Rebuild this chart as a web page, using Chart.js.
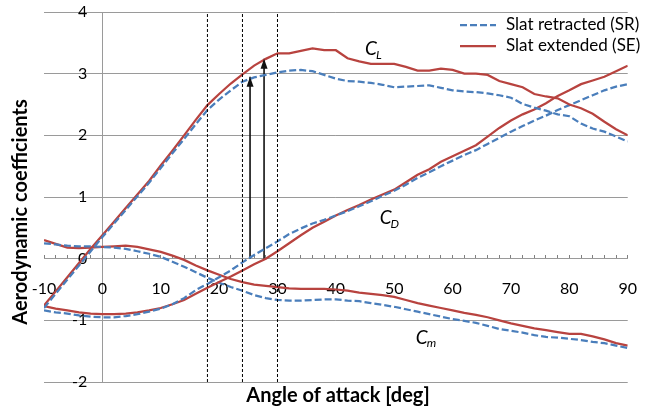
<!DOCTYPE html>
<html><head><meta charset="utf-8">
<script src="https://cdn.jsdelivr.net/npm/chart.js@4/dist/chart.umd.min.js"></script>
<style>html,body{margin:0;padding:0;background:#fff;}#wrap{width:662px;height:412px;position:relative}</style>
</head><body><div id="wrap"><canvas id="c" width="662" height="412"></canvas></div>
<script>
// ---- data ----
const angles = [-10,-8,-6,-4,-2,0,2,4,6,8,10,12,14,16,18,20,22,24,26,28,30,32,34,36,38,40,42,44,46,48,50,52,54,56,58,60,62,64,66,68,70,72,74,76,78,80,82,84,86,88,90];
const clSR = [-0.80,-0.57,-0.34,-0.11,0.12,0.35,0.57,0.79,1.01,1.23,1.47,1.71,1.94,2.18,2.41,2.58,2.73,2.87,2.94,2.98,3.02,3.05,3.06,3.04,2.98,2.92,2.88,2.87,2.85,2.82,2.78,2.79,2.80,2.81,2.77,2.73,2.71,2.70,2.68,2.65,2.61,2.51,2.45,2.40,2.34,2.31,2.19,2.11,2.06,1.98,1.90];
const clSE = [-0.76,-0.53,-0.30,-0.07,0.16,0.38,0.60,0.82,1.04,1.26,1.51,1.75,2.00,2.25,2.49,2.67,2.84,2.99,3.13,3.24,3.33,3.33,3.37,3.41,3.38,3.38,3.25,3.20,3.16,3.16,3.16,3.11,3.05,3.05,3.08,3.06,3.00,3.00,2.98,2.88,2.83,2.78,2.67,2.63,2.60,2.50,2.44,2.35,2.22,2.10,2.00];
const cdSR = [-0.84,-0.87,-0.89,-0.92,-0.94,-0.95,-0.95,-0.93,-0.90,-0.86,-0.81,-0.74,-0.64,-0.51,-0.41,-0.30,-0.19,-0.06,0.06,0.17,0.28,0.40,0.49,0.57,0.63,0.70,0.77,0.85,0.93,1.02,1.10,1.20,1.31,1.40,1.50,1.59,1.68,1.76,1.86,1.96,2.06,2.15,2.24,2.32,2.41,2.49,2.57,2.65,2.73,2.79,2.83];
const cdSE = [-0.77,-0.81,-0.84,-0.87,-0.89,-0.90,-0.90,-0.89,-0.87,-0.84,-0.80,-0.74,-0.67,-0.57,-0.47,-0.38,-0.29,-0.19,-0.09,0.00,0.12,0.25,0.38,0.50,0.60,0.70,0.79,0.87,0.96,1.04,1.12,1.24,1.36,1.45,1.57,1.66,1.75,1.84,1.98,2.12,2.24,2.34,2.42,2.52,2.64,2.73,2.83,2.89,2.95,3.04,3.13];
const cmSR = [0.25,0.23,0.21,0.20,0.20,0.19,0.18,0.16,0.12,0.08,0.03,-0.05,-0.13,-0.22,-0.31,-0.39,-0.46,-0.52,-0.59,-0.64,-0.67,-0.68,-0.68,-0.67,-0.66,-0.66,-0.68,-0.69,-0.72,-0.75,-0.78,-0.82,-0.86,-0.90,-0.94,-0.98,-1.01,-1.04,-1.09,-1.14,-1.17,-1.20,-1.24,-1.27,-1.28,-1.30,-1.32,-1.35,-1.37,-1.41,-1.45];
const cmSE = [0.30,0.24,0.18,0.17,0.18,0.19,0.20,0.21,0.19,0.15,0.11,0.05,-0.02,-0.11,-0.19,-0.26,-0.33,-0.38,-0.42,-0.44,-0.46,-0.48,-0.49,-0.49,-0.49,-0.50,-0.52,-0.55,-0.57,-0.59,-0.62,-0.67,-0.72,-0.76,-0.80,-0.84,-0.88,-0.91,-0.95,-1.00,-1.05,-1.09,-1.13,-1.16,-1.19,-1.22,-1.22,-1.26,-1.31,-1.37,-1.41];
const xLabelValues = [-10,0,10,20,30,40,50,60,70,80,90];
const yTickValues = [-2,-1,0,1,2,3,4];
const refAngles = [18,24,30];
const arrowAngles = [25.3,27.7];
const arrowTops = [2.95,3.24];
const seriesNames = ['Slat retracted (SR)','Slat extended (SE)'];
const xTitle = 'Angle of attack [deg]';
const yTitle = 'Aerodynamic coefficients';
const curveLabels = [{c:'C',s:'L',x:45.0,y:3.40},{c:'C',s:'D',x:47.5,y:0.66},{c:'C',s:'m',x:53.7,y:-1.28}];

// ---- styles ----
const BLUE = '#4A7EBB', RED = '#B8433F', GRID = '#9a9a9a';
const FONT = 'Lato, "Open Sans", sans-serif';
const DASH = [7,3];

const pts = arr => angles.map((a,i)=>({x:a,y:arr[i]}));
const curve = (label, arr, col, dashed) => ({label, data:pts(arr), borderColor:col, backgroundColor:col, borderWidth:2.25, borderDash: dashed?DASH:[], pointRadius:0, tension:0, fill:false});

const datasets = [];
refAngles.forEach(a => datasets.push({label:'ref', data:[{x:a,y:-2},{x:a,y:4}], borderColor:'#000', borderWidth:1, borderDash:[3,2], pointRadius:0, fill:false}));
datasets.push(curve('CL SR', clSR, BLUE, true));
datasets.push(curve('CL SE', clSE, RED, false));
datasets.push(curve('CD SR', cdSR, BLUE, true));
datasets.push(curve('CD SE', cdSE, RED, false));
datasets.push(curve('Cm SR', cmSR, BLUE, true));
datasets.push(curve('Cm SE', cmSE, RED, false));
arrowAngles.forEach((a,i) => datasets.push({label:'arrow', data:[{x:a,y:0},{x:a,y:arrowTops[i]}], borderColor:'#111', borderWidth:1.6, pointRadius:0, fill:false}));

const decor = {
  id:'decor',
  afterDatasetsDraw(chart){
    const ctx = chart.ctx;
    chart.data.datasets.forEach((ds,i)=>{
      if (ds.label !== 'arrow') return;
      const meta = chart.getDatasetMeta(i);
      const p = meta.data[meta.data.length-1];
      ctx.save(); ctx.fillStyle = '#111';
      ctx.beginPath(); ctx.moveTo(p.x, p.y); ctx.lineTo(p.x-3.5, p.y+10); ctx.lineTo(p.x+3.5, p.y+10); ctx.closePath(); ctx.fill();
      ctx.restore();
    });
  },
  afterDraw(chart){
    const ctx = chart.ctx, xs = chart.scales.x, ys = chart.scales.y;
    ctx.save();
    ctx.fillStyle = '#000';
    // axis titles
    ctx.font = 'bold 20px ' + FONT;
    ctx.textAlign = 'center'; ctx.textBaseline = 'middle';
    ctx.fillText(xTitle, 338, 396);
    ctx.save(); ctx.translate(21, 212); ctx.rotate(-Math.PI/2); ctx.fillText(yTitle, 0, 0); ctx.restore();
    // legend
    ctx.textAlign = 'left';
    ctx.font = '17px ' + FONT;
    const ly = [25, 46], cols = [BLUE, RED], dashes = [DASH, []];
    seriesNames.forEach((n,i)=>{
      ctx.save(); ctx.strokeStyle = cols[i]; ctx.lineWidth = 2.25; ctx.setLineDash(dashes[i]);
      ctx.beginPath(); ctx.moveTo(460, ly[i]); ctx.lineTo(496, ly[i]); ctx.stroke(); ctx.restore();
      ctx.fillText(n, 506, ly[i]);
    });
    // curve labels
    curveLabels.forEach(l=>{
      const px = xs.getPixelForValue(l.x), py = ys.getPixelForValue(l.y);
      ctx.font = 'italic 19px ' + FONT;
      ctx.fillText(l.c, px, py);
      const w = ctx.measureText(l.c).width;
      ctx.font = 'italic 12px ' + FONT;
      ctx.fillText(l.s, px + w - 1, py + 6);
    });
    ctx.restore();
  }
};

new Chart(document.getElementById('c'), {
  type:'line',
  data:{datasets},
  options:{
    responsive:false, animation:false, devicePixelRatio:1,
    layout:{padding:{left:44, right:27, top:12, bottom:30}},
    plugins:{legend:{display:false}, tooltip:{enabled:false}},
    scales:{
      x:{type:'linear', min:-10, max:90, position:{y:0},
        ticks:{stepSize:2, autoSkip:false, maxRotation:0, padding:25, color:'#000', font:{family:FONT, size:16},
          callback:(v)=> xLabelValues.includes(v) ? String(v) : ''},
        grid:{drawOnChartArea:true, drawTicks:true, tickLength:-4, tickColor:'#808080', tickWidth:1,
          color:(c)=> (c.tick && c.tick.value===0) ? GRID : 'rgba(0,0,0,0)'},
        border:{display:true, color:GRID, width:1}},
      y:{type:'linear', min:-2, max:4, position:{x:-2.6},
        afterBuildTicks:(s)=>{ s.ticks = yTickValues.map(v=>({value:v})); },
        ticks:{color:'#000', font:{family:FONT, size:16}, padding:0},
        grid:{color:GRID, drawTicks:false},
        border:{display:false}}
    }
  },
  plugins:[decor]
});
</script></body></html>
